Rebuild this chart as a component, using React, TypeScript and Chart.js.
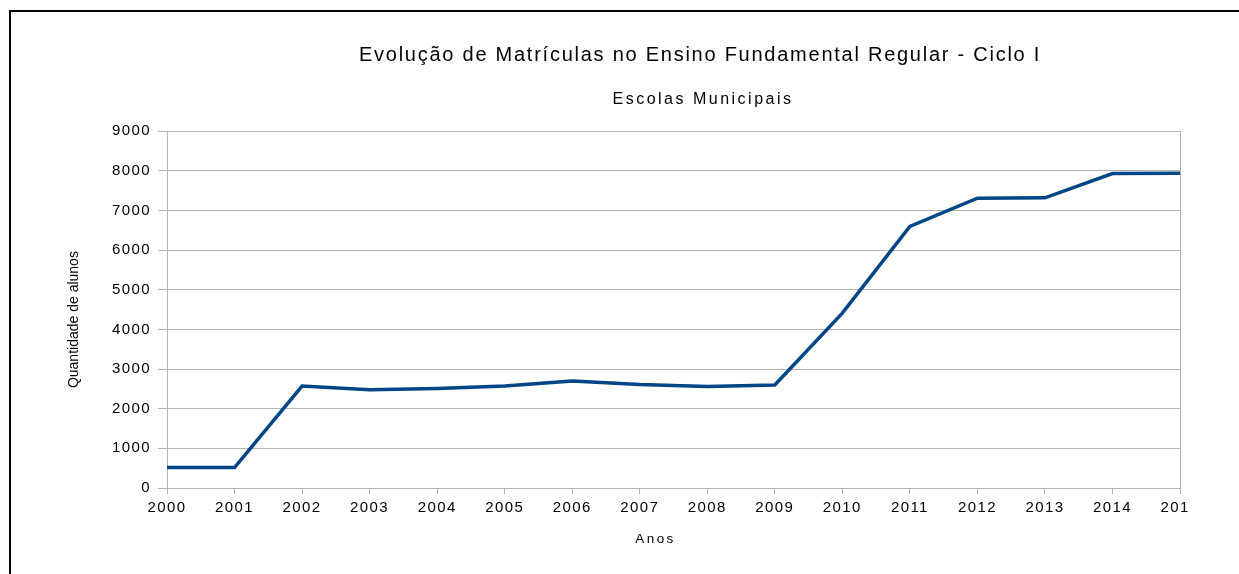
import React, { useEffect, useRef } from 'react';
import { Chart, registerables } from 'chart.js';

Chart.register(...registerables);

// ---- Data ----
const TITLE = 'Evolução de Matrículas no Ensino Fundamental Regular - Ciclo I';
const SUBTITLE = 'Escolas Municipais';
const X_TITLE = 'Anos';
const Y_TITLE = 'Quantidade de alunos';

const years = ['2000', '2001', '2002', '2003', '2004', '2005', '2006', '2007', '2008', '2009', '2010', '2011', '2012', '2013', '2014', '2015'];
const matriculas = [520, 515, 2570, 2480, 2510, 2570, 2700, 2610, 2560, 2600, 4410, 6600, 7310, 7320, 7930, 7940];
const yMin = 0;
const yMax = 9000;
const yStep = 1000;

const FONT = "'Liberation Sans', Arial, sans-serif";
const TICK_SPACING = '1.4px';

function withSpacing(obj: any, method: string, spacing: string, dx = 0, dy = 0) {
  if (!obj || obj['__sp_' + method]) return;
  const orig = obj[method];
  obj[method] = function (...args: any[]) {
    const ctx = this.ctx;
    ctx.save();
    ctx.letterSpacing = spacing;
    ctx.translate(dx, dy);
    try {
      return orig.apply(this, args);
    } finally {
      ctx.restore();
    }
  };
  obj['__sp_' + method] = true;
}

const spacingPlugin = {
  id: 'letterSpacingPlugin',
  beforeLayout(chart: any) {
    chart.ctx.letterSpacing = TICK_SPACING;
  },
  afterLayout(chart: any) {
    chart.boxes.forEach((box: any) => {
      const text = box.options && box.options.text;
      if (text === TITLE) withSpacing(box, 'draw', '1.75px');
      else if (text === SUBTITLE) withSpacing(box, 'draw', '2.5px', 3, 0);
    });
    withSpacing(chart.scales.x, 'drawTitle', '2.4px', -18, 0);
    withSpacing(chart.scales.y, 'drawTitle', '0px', 0, 10);
  },
  beforeDraw(chart: any) {
    chart.ctx.letterSpacing = TICK_SPACING;
  },
};

export default function App() {
  const canvasRef = useRef<HTMLCanvasElement | null>(null);

  useEffect(() => {
    if (!canvasRef.current) return;
    const chart = new Chart(canvasRef.current, {
      type: 'line',
      data: {
        labels: years,
        datasets: [
          {
            data: matriculas,
            borderColor: '#004586',
            backgroundColor: '#004586',
            borderWidth: 3.5,
            pointRadius: 0,
            tension: 0,
            fill: false,
            yAxisID: 'y',
          },
        ],
      },
      plugins: [spacingPlugin],
      options: {
        responsive: false,
        animation: false,
        events: [],
        layout: { padding: 0 },
        plugins: {
          legend: { display: false },
          tooltip: { enabled: false },
          title: {
            display: true,
            text: TITLE,
            color: '#000',
            font: { family: FONT, size: 20, weight: 'normal', lineHeight: 1.2 },
            padding: { top: 43, bottom: 0 },
          },
          subtitle: {
            display: true,
            text: SUBTITLE,
            color: '#000',
            font: { family: FONT, size: 16, weight: 'normal', lineHeight: 1.2 },
            padding: { top: 23, bottom: 22 },
          },
        },
        scales: {
          x: {
            type: 'category',
            offset: false,
            grid: { display: true, drawOnChartArea: false, drawTicks: true, tickLength: 6, color: '#b3b3b3' },
            border: { display: true, color: '#b3b3b3', width: 1 },
            ticks: {
              autoSkip: false,
              maxRotation: 0,
              minRotation: 0,
              padding: 5,
              color: '#000',
              font: { family: FONT, size: 15, lineHeight: 1.2 },
            },
            title: {
              display: true,
              text: X_TITLE,
              color: '#000',
              font: { family: FONT, size: 13.5, lineHeight: 1.2 },
              padding: { top: 0, bottom: 27 },
            },
            afterFit: (s: any) => {
              s.height = 86;
            },
          },
          y: {
            type: 'linear',
            position: 'left',
            min: yMin,
            max: yMax,
            ticks: {
              stepSize: yStep,
              padding: 7,
              color: '#000',
              font: { family: FONT, size: 15, lineHeight: 1.2 },
              callback: (v: any) => String(v),
            },
            grid: { color: '#b3b3b3', drawTicks: true, tickLength: 9 },
            border: { display: true, color: '#b3b3b3', width: 1 },
            title: {
              display: true,
              text: Y_TITLE,
              color: '#000',
              font: { family: FONT, size: 14, lineHeight: 1.2 },
              padding: { top: 66, bottom: 0 },
            },
            afterFit: (s: any) => {
              s.width = 167;
            },
          },
          y2: {
            type: 'linear',
            position: 'right',
            min: yMin,
            max: yMax,
            grid: { display: false, drawOnChartArea: false, drawTicks: false },
            border: { display: true, color: '#b3b3b3', width: 1 },
            ticks: { display: false },
            title: { display: false },
            afterFit: (s: any) => {
              s.width = 220;
            },
          },
        },
      },
    } as any);
    return () => chart.destroy();
  }, []);

  return (
    <div style={{ position: 'fixed', left: 0, top: 0, right: 0, bottom: 0, overflow: 'hidden', background: '#fff' }}>
      <div
        style={{
          position: 'absolute',
          left: 9,
          top: 10,
          width: 2000,
          height: 2000,
          border: '2px solid #000',
          boxSizing: 'border-box',
        }}
      />
      <div style={{ position: 'absolute', left: 0, top: 0, width: 1189, height: 574, overflow: 'hidden' }}>
        <canvas
          ref={canvasRef}
          width={1400}
          height={574}
          style={{ position: 'absolute', left: 0, top: 0, width: 1400, height: 574 }}
        />
      </div>
    </div>
  );
}
